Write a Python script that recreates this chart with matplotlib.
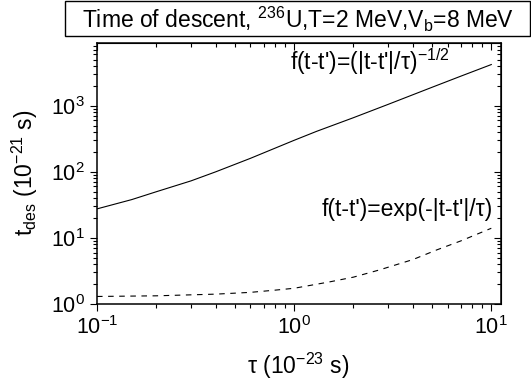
import matplotlib
matplotlib.use("Agg")
import matplotlib.pyplot as plt
from matplotlib.patches import Rectangle

plt.rcParams['font.family'] = ['Liberation Sans', 'DejaVu Sans']
plt.rcParams['mathtext.fontset'] = 'custom'
plt.rcParams['mathtext.rm'] = 'Liberation Sans'
plt.rcParams['mathtext.it'] = 'Liberation Sans'
plt.rcParams['mathtext.default'] = 'regular'

# descent time for the power-law memory kernel
tau_pow = [0.1, 0.15, 0.2, 0.3, 0.4, 0.6, 0.8, 1.0, 1.3, 2.0, 3.0, 5.0, 7.0, 10.0]
tdes_pow = [27.5, 38, 50, 73, 100, 160, 228, 300, 410, 660, 1050, 1900, 2800, 4200]

# descent time for the exponential memory kernel
tau_exp = [0.1, 0.2, 0.4, 0.6, 0.8, 1.0, 1.5, 2.0, 2.7, 4.0, 5.3, 7.0, 10.0]
tdes_exp = [1.3, 1.33, 1.41, 1.5, 1.62, 1.73, 2.15, 2.55, 3.27, 4.7, 6.6, 9.0, 14.0]

title = "Time of descent, $^{236}$U,T=2 MeV,V$_b$=8 MeV"
label_pow = "f(t-t')=(|t-t'|/τ)$^{-1/2}$"
label_exp = "f(t-t')=exp(-|t-t'|/τ)"

fig = plt.figure(figsize=(5.31, 3.80), dpi=100)
ax = fig.add_axes([97 / 531, 76 / 380, 404 / 531, 261 / 380])

ax.plot(tau_pow, tdes_pow, color='black', lw=0.8)
ax.plot(tau_exp, tdes_exp, color='black', lw=0.8, dashes=(5, 5))

ax.set_xscale('log')
ax.set_yscale('log')
ax.set_xlim(0.1, 11.2)
ax.set_ylim(1, 8900)

for s in ax.spines.values():
    s.set_linewidth(1.1)

ax.tick_params(which='both', direction='out', labelsize=15.5, width=0.8)
ax.tick_params(which='major', length=5)
ax.tick_params(which='minor', length=3)

# inward ticks on the top and right frame
top = ax.secondary_xaxis('top')
top.tick_params(which='both', direction='in', labeltop=False, width=0.8)
top.tick_params(which='major', length=5)
top.tick_params(which='minor', length=3)
right = ax.secondary_yaxis('right')
right.tick_params(which='both', direction='in', labelright=False, width=0.8)
right.tick_params(which='major', length=5)
right.tick_params(which='minor', length=3)

ax.text(450 / 531, 310 / 380, label_pow, transform=fig.transFigure,
        ha='right', va='baseline', fontsize=16.5)
ax.text(493 / 531, 164 / 380, label_exp, transform=fig.transFigure,
        ha='right', va='baseline', fontsize=16.5)

fig.text(298 / 531, 14 / 380, "τ (10$^{-23}$ s)", ha='center', va='center', fontsize=16.5)
fig.text(25 / 531, 207 / 380, "t$_{des}$ (10$^{-21}$ s)", ha='center', va='center',
         rotation=90, fontsize=16.5)

# framed title box
fig.patches.append(Rectangle((65 / 531, 344 / 380), 465 / 531, 35 / 380,
                             transform=fig.transFigure, fill=False,
                             edgecolor='black', lw=1.0))
fig.text(298 / 531, 361 / 380, title, ha='center', va='center', fontsize=16.5)

fig.savefig("out.png", dpi=100)
